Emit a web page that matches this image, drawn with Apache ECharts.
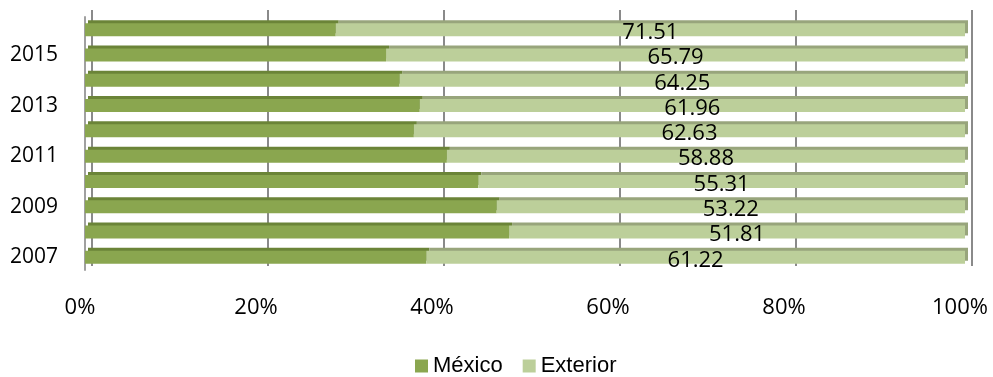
<!DOCTYPE html>
<html>
<head>
<meta charset="utf-8">
<script src="https://cdn.jsdelivr.net/npm/echarts@6/dist/echarts.min.js"></script>
<style>
	html, body { margin: 0; padding: 0; background: #fff; }
	#chart { width: 993px; height: 377px; }
</style>
</head>
<body>
<div id="chart"></div>
<script>
	var years = ['2007', '2008', '2009', '2010', '2011', '2012', '2013', '2014', '2015', '2016'];
	var exterior = [61.22, 51.81, 53.22, 55.31, 58.88, 62.63, 61.96, 64.25, 65.79, 71.51];
	var mexico = [38.78, 48.19, 46.78, 44.69, 41.12, 37.37, 38.04, 35.75, 34.21, 28.49];
	var pctTicks = [0, 20, 40, 60, 80, 100];

	var labelFont = 'Open Sans';
	var chart = echarts.init(document.getElementById('chart'));

	var option = {
		animation: false,
		grid: [{
			// barras (cara frontal)
			left: 85, right: 28, top: 17, bottom: 107
		}, {
			// pared del fondo (solo lineas de rejilla)
			left: 92, right: 21, top: 10, bottom: 111
		}],
		legend: {
			left: 410,
			top: 350,
			itemWidth: 13,
			itemHeight: 13,
			itemGap: 20,
			icon: 'rect',
			itemStyle: { shadowColor: 'rgba(0,0,0,0)', shadowOffsetX: 0, shadowOffsetY: 0 },
			textStyle: { fontFamily: 'Liberation Sans', fontSize: 22, color: '#000' },
			data: ['México', 'Exterior']
		},
		xAxis: [{
			gridIndex: 0,
			type: 'value',
			min: 0,
			max: 100,
			interval: 20,
			axisLine: { show: false },
			axisTick: { show: false },
			splitLine: { show: false },
			axisLabel: {
				margin: 27,
				padding: [0, 10, 0, 0],
				fontFamily: labelFont,
				fontSize: 22,
				color: '#000',
				formatter: function (v) {
					return pctTicks.indexOf(v) >= 0 ? v + '%' : '';
				}
			}
		}, {
			gridIndex: 1,
			type: 'value',
			min: 0,
			max: 100,
			interval: 20,
			axisLine: { show: false },
			axisTick: { show: false },
			axisLabel: { show: false },
			splitLine: { show: true, lineStyle: { color: '#8a8a8a', width: 2 } }
		}],
		yAxis: [{
			gridIndex: 0,
			type: 'category',
			data: years,
			offset: 5,
			axisLine: { show: true, lineStyle: { color: '#a0a0a0', width: 2 } },
			axisTick: { show: false },
			axisLabel: {
				interval: 1,
				margin: 22,
				padding: [4, 0, 0, 0],
				fontFamily: labelFont,
				fontSize: 21,
				color: '#000'
			}
		}, {
			gridIndex: 1,
			type: 'category',
			data: years,
			show: false
		}],
		series: [{
			name: 'México',
			type: 'bar',
			stack: 'total',
			barWidth: 13,
			xAxisIndex: 0,
			yAxisIndex: 0,
			z: 3,
			itemStyle: {
				color: '#8aa64f',
				shadowColor: '#6b8438',
				shadowBlur: 0,
				shadowOffsetX: 3,
				shadowOffsetY: -3
			},
			data: mexico
		}, {
			name: 'Exterior',
			type: 'bar',
			stack: 'total',
			barWidth: 13,
			xAxisIndex: 0,
			yAxisIndex: 0,
			z: 3,
			itemStyle: {
				color: '#bccf9a',
				shadowColor: '#98a57c',
				shadowBlur: 0,
				shadowOffsetX: 3,
				shadowOffsetY: -3
			},
			label: {
				show: true,
				position: 'inside',
				offset: [0, 3],
				fontFamily: labelFont,
				fontSize: 22,
				color: '#000',
				formatter: function (p) { return p.value.toFixed(2); }
			},
			data: exterior
		}]
	};

	chart.setOption(option);
</script>
</body>
</html>
